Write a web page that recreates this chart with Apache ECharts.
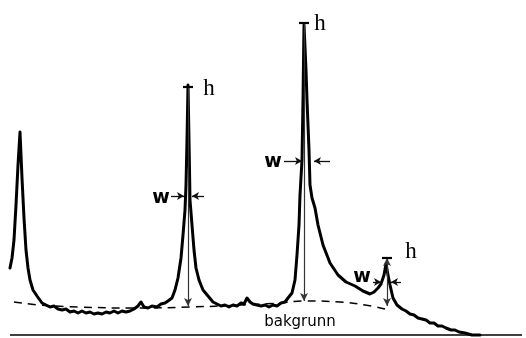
<!DOCTYPE html>
<html>
<head>
<meta charset="utf-8">
<script src="https://cdn.jsdelivr.net/npm/echarts@6/dist/echarts.min.js"></script>
<style>
  html, body { margin: 0; padding: 0; background: #fff; }
  #chart { width: 526px; height: 338px; }
</style>
</head>
<body>
<div id="chart"></div>
<script>
// spectrum trace (x = channel, y = depth from top)
const spectrum = [
  [10, 268], [12, 258], [14, 240], [16, 205], [18, 165], [20, 132], [22, 178], [24, 218],
  [26, 250], [28, 268], [30, 280], [33, 290], [37, 296], [42, 303], [46, 305], [50, 307],
  [54, 306], [58, 309], [62, 310], [66, 309], [70, 312], [74, 311], [78, 313], [82, 311],
  [86, 313], [90, 312], [94, 314], [98, 313], [102, 314], [106, 312], [110, 313], [114, 311],
  [118, 313], [122, 311], [126, 312], [130, 311], [134, 309], [138, 306], [141, 302], [144, 307],
  [148, 308], [152, 306], [157, 307], [161, 304], [165, 303], [168, 301], [172, 298], [175, 290],
  [178, 278], [181, 258], [183, 235], [185, 210], [186, 185], [187, 140], [188, 85], [189, 140],
  [190, 200], [192, 225], [194, 250], [196, 268], [199, 280], [203, 290], [208, 296], [213, 302],
  [217, 304], [221, 306], [225, 305], [229, 307], [233, 305], [237, 306], [241, 303], [244, 304],
  [247, 298], [250, 302], [253, 304], [257, 305], [261, 306], [265, 305], [269, 307], [273, 305],
  [277, 306], [281, 303], [285, 302], [288, 298], [292, 293], [295, 280], [297, 255], [299, 225],
  [300, 195], [302, 160], [303, 100], [304, 25], [306, 70], [307, 100], [309, 150], [310, 185],
  [312, 198], [315, 208], [318, 225], [323, 245], [330, 263], [338, 275], [346, 282], [355, 286],
  [363, 291], [370, 294], [374, 292], [378, 288], [381, 284], [384, 275], [386, 264], [388, 275],
  [390, 285], [393, 298], [397, 305], [402, 309], [406, 311], [410, 314], [414, 315], [418, 318],
  [422, 319], [426, 320], [430, 323], [434, 323], [438, 326], [442, 326], [446, 328], [451, 330],
  [455, 330], [459, 332], [465, 333], [472, 335], [480, 335]
]

// dashed background curve
const background = [
  [14, 302], [40, 305], [80, 307], [130, 308], [190, 307], [240, 305],
  [280, 303], [305, 301], [340, 302], [365, 305], [385, 309]
]

// horizontal base line
const axisLine = [[10, 335], [522, 335]]

// peak markers: h (height) and W (width)
const peakX = [188, 304, 387]
const peakTop = [87, 23, 258]
const peakBase = [306, 301, 306]
const topArrow = [false, false, true]
const widthY = [196, 161, 282]
const widthLeft = [[171, 184], [284, 302], [373, 381]]
const widthRight = [[204, 192], [330, 314], [401, 391]]

const hLabelPos = [[209, 89], [320, 24], [411, 252]]
const wLabelPos = [[161, 198], [273, 162], [362, 277]]
const bgLabelPos = [300, 322]

const chart = echarts.init(document.getElementById('chart'))

const markData = []
peakX.forEach((x, i) => {
  // vertical height line with arrow down to the background
  markData.push([
    { coord: [x, peakTop[i]], symbol: topArrow[i] ? 'arrow' : 'none', symbolSize: [6, 8] },
    { coord: [x, peakBase[i]], symbol: 'arrow', symbolSize: [6, 8] }
  ])
  // T cap
  markData.push([
    { coord: [x - 5, peakTop[i]], symbol: 'none', lineStyle: { width: 2.2, color: '#000' } },
    { coord: [x + 5, peakTop[i]], symbol: 'none' }
  ])
  // width arrows
  markData.push([
    { coord: [widthLeft[i][0], widthY[i]], symbol: 'none', lineStyle: { width: 1.3, color: '#111' } },
    { coord: [widthLeft[i][1], widthY[i]], symbol: 'arrow', symbolSize: [6, 7] }
  ])
  markData.push([
    { coord: [widthRight[i][0], widthY[i]], symbol: 'none', lineStyle: { width: 1.3, color: '#111' } },
    { coord: [widthRight[i][1], widthY[i]], symbol: 'arrow', symbolSize: [6, 7] }
  ])
})

const textData = []
hLabelPos.forEach(p => textData.push({ value: p, name: 'h', label: { fontFamily: 'Liberation Serif', fontSize: 23 } }))
wLabelPos.forEach(p => textData.push({ value: p, name: 'w', label: { fontFamily: 'DejaVu Sans', fontWeight: 'bold', fontSize: 19 } }))
textData.push({ value: bgLabelPos, name: 'bakgrunn', label: { fontFamily: 'DejaVu Sans', fontSize: 15 } })

chart.setOption({
  animation: false,
  grid: { left: 0, right: 0, top: 0, bottom: 0 },
  xAxis: { type: 'value', min: 0, max: 526, show: false },
  yAxis: { type: 'value', min: 0, max: 338, inverse: true, show: false },
  series: [
    {
      type: 'line',
      data: axisLine,
      symbol: 'none',
      lineStyle: { color: '#000', width: 1.7 }
    },
    {
      type: 'line',
      data: background,
      symbol: 'none',
      smooth: true,
      lineStyle: { color: '#000', width: 1.5, type: [8, 6] }
    },
    {
      type: 'line',
      data: spectrum,
      symbol: 'none',
      lineStyle: { color: '#000', width: 3, join: 'round', cap: 'round' },
      markLine: {
        silent: true,
        label: { show: false },
        lineStyle: { color: '#333', width: 1.2, type: 'solid' },
        data: markData
      }
    },
    {
      type: 'scatter',
      silent: true,
      symbolSize: 0,
      data: textData,
      itemStyle: { color: '#000', opacity: 1 },
      label: {
        show: true,
        position: 'inside',
        color: '#000',
        textBorderWidth: 0,
        formatter: p => p.name
      }
    }
  ]
})
</script>
</body>
</html>
